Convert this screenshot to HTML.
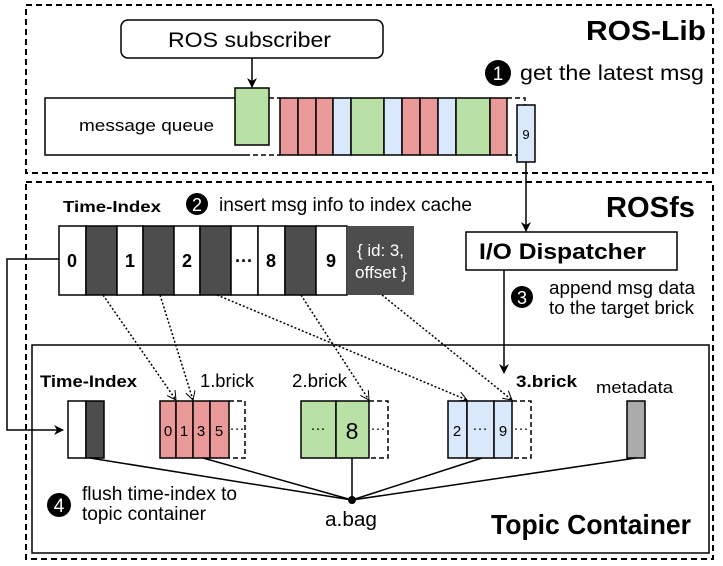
<!DOCTYPE html>
<html><head><meta charset="utf-8"><style>
html,body{margin:0;padding:0;background:#fff;}
svg{display:block;font-family:"Liberation Sans",Arial,sans-serif;}
</style></head><body>
<svg width="723" height="566" viewBox="0 0 723 566" xmlns="http://www.w3.org/2000/svg">
<defs>
<marker id="ah" markerWidth="10" markerHeight="10" refX="9" refY="5" orient="auto" markerUnits="userSpaceOnUse"><path d="M0,0 L10,5 L0,10 L3,5 z" fill="#000"/></marker>
<marker id="oh" markerWidth="10" markerHeight="10" refX="9" refY="5" orient="auto" markerUnits="userSpaceOnUse"><path d="M0,0 L9,5 L0,10" fill="none" stroke="#000" stroke-width="1"/></marker>
</defs>
<!-- ROS-Lib -->
<rect x="26" y="5" width="687" height="168" fill="none" stroke="#000" stroke-width="2" stroke-dasharray="6,4"/>
<text x="586" y="40" font-size="28" font-weight="bold" textLength="120" lengthAdjust="spacingAndGlyphs">ROS-Lib</text>
<rect x="121" y="20" width="262" height="38" rx="7" fill="#fff" stroke="#000" stroke-width="1.5"/>
<text x="168" y="47" font-size="21" textLength="163" lengthAdjust="spacingAndGlyphs">ROS subscriber</text>
<line x1="252" y1="58" x2="252" y2="87" stroke="#000" stroke-width="1.5" marker-end="url(#ah)"/>
<circle cx="498" cy="73" r="13" fill="#000"/>
<text x="498" y="80" font-size="19" fill="#fff" text-anchor="middle">1</text>
<text x="520" y="80" font-size="21" textLength="184" lengthAdjust="spacingAndGlyphs">get the latest msg</text>
<path d="M245,98 H45 V155 H245" fill="none" stroke="#000" stroke-width="1.5"/>
<text x="79" y="131" font-size="17" textLength="135" lengthAdjust="spacingAndGlyphs">message queue</text>
<path d="M245,155 H280 M269,98 H280 M507,98 H525 V155 H507" fill="none" stroke="#000" stroke-width="1.5" stroke-dasharray="5,3"/>
<g stroke="#000" stroke-width="1.5">
<rect x="280" y="98" width="18" height="57" fill="#ea9999"/>
<rect x="298" y="98" width="18" height="57" fill="#ea9999"/>
<rect x="316" y="98" width="17" height="57" fill="#ea9999"/>
<rect x="333" y="98" width="18" height="57" fill="#dae8fc"/>
<rect x="351" y="98" width="33" height="57" fill="#b9e0a5"/>
<rect x="384" y="98" width="18" height="57" fill="#dae8fc"/>
<rect x="402" y="98" width="18" height="57" fill="#ea9999"/>
<rect x="420" y="98" width="18" height="57" fill="#ea9999"/>
<rect x="438" y="98" width="18" height="57" fill="#dae8fc"/>
<rect x="456" y="98" width="34" height="57" fill="#b9e0a5"/>
<rect x="490" y="98" width="17" height="57" fill="#ea9999"/>
<rect x="235" y="88" width="34" height="57" fill="#b9e0a5"/>
<rect x="517" y="105" width="18" height="57" fill="#dae8fc"/>
</g>
<text x="526" y="139" font-size="13" text-anchor="middle">9</text>
<line x1="526" y1="162" x2="526" y2="231" stroke="#000" stroke-width="1.5" marker-end="url(#ah)"/>
<!-- ROSfs -->
<rect x="26" y="182" width="687" height="377" fill="none" stroke="#000" stroke-width="2" stroke-dasharray="6,4"/>
<text x="606" y="217" font-size="29" font-weight="bold" textLength="89" lengthAdjust="spacingAndGlyphs">ROSfs</text>
<text x="63" y="212" font-size="16" font-weight="bold" textLength="98" lengthAdjust="spacingAndGlyphs">Time-Index</text>
<circle cx="197" cy="204" r="11" fill="#000"/>
<text x="197" y="211" font-size="18" fill="#fff" text-anchor="middle">2</text>
<text x="219" y="211" font-size="19" textLength="253" lengthAdjust="spacingAndGlyphs">insert msg info to index cache</text>
<g stroke="#000" stroke-width="1.5">
<rect x="59" y="226" width="27" height="69" fill="#fff"/>
<rect x="86" y="226" width="31" height="69" fill="#4d4d4d"/>
<rect x="117" y="226" width="26" height="69" fill="#fff"/>
<rect x="143" y="226" width="31" height="69" fill="#4d4d4d"/>
<rect x="174" y="226" width="26" height="69" fill="#fff"/>
<rect x="200" y="226" width="31" height="69" fill="#4d4d4d"/>
<rect x="231" y="226" width="27" height="69" fill="#fff"/>
<rect x="258" y="226" width="27" height="69" fill="#fff"/>
<rect x="285" y="226" width="31" height="69" fill="#4d4d4d"/>
<rect x="316" y="226" width="31" height="69" fill="#fff"/>
</g>
<rect x="347" y="226" width="67" height="69" fill="#4d4d4d"/>
<g font-size="18" font-weight="bold" text-anchor="middle">
<text x="72" y="267">0</text><text x="130" y="267">1</text><text x="187" y="267">2</text>
<text x="244" y="267">···</text><text x="271" y="267">8</text><text x="331" y="267">9</text>
</g>
<text x="357" y="256" font-size="17" fill="#fff" textLength="47" lengthAdjust="spacingAndGlyphs">{ id: 3,</text>
<text x="355" y="278" font-size="17" fill="#fff" textLength="52" lengthAdjust="spacingAndGlyphs">offset }</text>
<rect x="466" y="232" width="211" height="38" fill="#fff" stroke="#000" stroke-width="1.5"/>
<text x="479" y="259" font-size="22" font-weight="bold" textLength="167" lengthAdjust="spacingAndGlyphs">I/O Dispatcher</text>
<line x1="504" y1="270" x2="504" y2="373" stroke="#000" stroke-width="1.5" marker-end="url(#ah)"/>
<circle cx="522" cy="297" r="11" fill="#000"/>
<text x="522" y="304" font-size="18" fill="#fff" text-anchor="middle">3</text>
<text x="549" y="294" font-size="18" textLength="146" lengthAdjust="spacingAndGlyphs">append msg data</text>
<text x="549" y="314" font-size="18" textLength="145" lengthAdjust="spacingAndGlyphs">to the target brick</text>
<!-- Topic container -->
<rect x="32" y="345" width="677" height="208" fill="none" stroke="#000" stroke-width="1.5"/>
<text x="491" y="534" font-size="28" font-weight="bold" textLength="200" lengthAdjust="spacingAndGlyphs">Topic Container</text>
<path d="M59,259 H7 V430 H63" fill="none" stroke="#000" stroke-width="1.5" marker-end="url(#ah)"/>
<text x="40" y="387" font-size="17" font-weight="bold" textLength="97" lengthAdjust="spacingAndGlyphs">Time-Index</text>
<rect x="68" y="401" width="18" height="57" fill="#fff" stroke="#000" stroke-width="1.5"/>
<rect x="86" y="401" width="18" height="57" fill="#4d4d4d" stroke="#000" stroke-width="1.5"/>
<text x="200" y="387" font-size="18" textLength="54" lengthAdjust="spacingAndGlyphs">1.brick</text>
<text x="292" y="387" font-size="18" textLength="55" lengthAdjust="spacingAndGlyphs">2.brick</text>
<text x="516" y="387" font-size="17" font-weight="bold" textLength="61" lengthAdjust="spacingAndGlyphs">3.brick</text>
<text x="596" y="393" font-size="17" textLength="77" lengthAdjust="spacingAndGlyphs">metadata</text>
<g stroke="#000" stroke-width="1.5">
<rect x="160" y="401" width="16" height="57" fill="#ea9999"/>
<rect x="176" y="401" width="17" height="57" fill="#ea9999"/>
<rect x="193" y="401" width="17" height="57" fill="#ea9999"/>
<rect x="210" y="401" width="19" height="57" fill="#ea9999"/>
<rect x="301" y="401" width="35" height="57" fill="#b9e0a5"/>
<rect x="336" y="401" width="33" height="57" fill="#b9e0a5"/>
<rect x="448" y="401" width="19" height="57" fill="#dae8fc"/>
<rect x="467" y="401" width="27" height="57" fill="#dae8fc"/>
<rect x="494" y="401" width="18" height="57" fill="#dae8fc"/>
<rect x="627" y="401" width="18" height="57" fill="#aaaaaa"/>
</g>
<g fill="none" stroke="#000" stroke-width="1.5" stroke-dasharray="5,3">
<path d="M229,401 H245 V458 H229"/><path d="M369,401 H388 V458 H369"/><path d="M512,401 H531 V458 H512"/>
</g>
<g font-size="15" text-anchor="middle">
<text x="168" y="436">0</text><text x="184" y="436">1</text><text x="201" y="436">3</text><text x="219" y="436">5</text><text x="237" y="433">···</text>
<text x="318" y="433">···</text><text x="352" y="439" font-size="23">8</text><text x="378" y="433">···</text>
<text x="457" y="436">2</text><text x="480" y="433">···</text><text x="503" y="436">9</text><text x="521" y="433">···</text>
</g>
<g stroke="#000" stroke-width="1.5">
<line x1="90" y1="458" x2="352" y2="500"/><line x1="203" y1="458" x2="352" y2="500"/>
<line x1="352" y1="458" x2="352" y2="500"/><line x1="482" y1="458" x2="352" y2="500"/>
<line x1="636" y1="458" x2="352" y2="500"/>
</g>
<circle cx="352" cy="500" r="4" fill="#000"/>
<text x="325" y="526" font-size="20" textLength="52" lengthAdjust="spacingAndGlyphs">a.bag</text>
<circle cx="59" cy="505" r="12" fill="#000"/>
<text x="59" y="512" font-size="19" fill="#fff" text-anchor="middle">4</text>
<text x="82" y="500" font-size="19" textLength="155" lengthAdjust="spacingAndGlyphs">flush time-index to</text>
<text x="82" y="520" font-size="19" textLength="124" lengthAdjust="spacingAndGlyphs">topic container</text>
<!-- dotted arrows -->
<g stroke="#000" stroke-width="1.5" stroke-dasharray="2,2" fill="none">
<line x1="103" y1="295" x2="176" y2="400" marker-end="url(#oh)"/>
<line x1="160" y1="295" x2="193" y2="400" marker-end="url(#oh)"/>
<line x1="217" y1="295" x2="467" y2="400" marker-end="url(#oh)"/>
<line x1="301" y1="295" x2="369" y2="400" marker-end="url(#oh)"/>
<line x1="382" y1="295" x2="512" y2="400" marker-end="url(#oh)"/>
</g>
</svg>
</body></html>
